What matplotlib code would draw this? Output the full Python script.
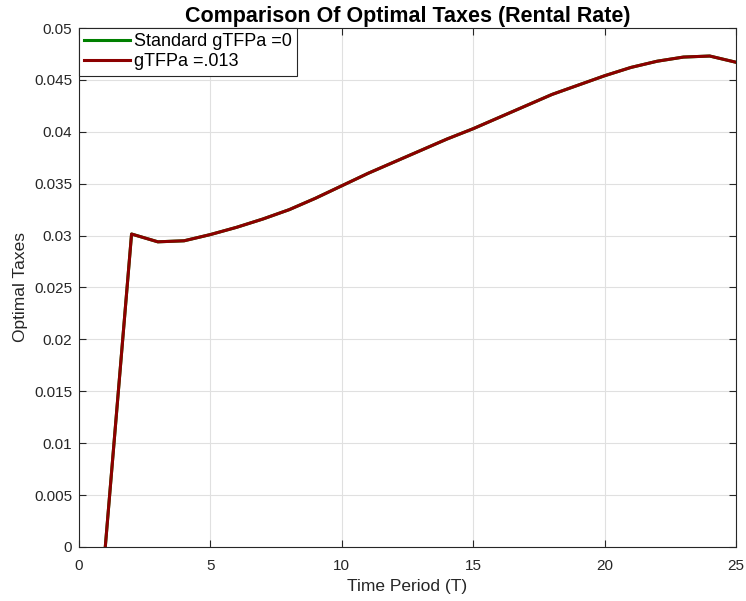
import numpy as np
import matplotlib.pyplot as plt

plt.rcParams['font.family'] = ['Liberation Sans', 'DejaVu Sans']

periods = list(range(1, 26))
tax_standard = [0.0, 0.03015, 0.0294, 0.0295, 0.0301, 0.0308, 0.0316, 0.0325, 0.0336,
                0.0348, 0.0360, 0.0371, 0.0382, 0.0393, 0.0403, 0.0414, 0.0425, 0.0436,
                0.0445, 0.0454, 0.0462, 0.0468, 0.0472, 0.0473, 0.0467]
tax_growth = [0.0, 0.03015, 0.0294, 0.0295, 0.0301, 0.0308, 0.0316, 0.0325, 0.0336,
              0.0348, 0.0360, 0.0371, 0.0382, 0.0393, 0.0403, 0.0414, 0.0425, 0.0436,
              0.0445, 0.0454, 0.0462, 0.0468, 0.0472, 0.0473, 0.0467]

dark = (0.15, 0.15, 0.15)

fig = plt.figure(figsize=(7.46, 6.01), dpi=100)
ax = fig.add_axes([0.1059, 0.0899, 0.8807, 0.8635])

ax.plot(periods, tax_standard, color=(0, 0.5, 0), lw=2.2, label='Standard gTFPa =0')
ax.plot(periods, tax_growth, color=(0.55, 0, 0), lw=2.2, label='gTFPa =.013')

ax.set_xlim(0, 25)
ax.set_ylim(0, 0.05)
ax.set_xticks(np.arange(0, 26, 5))
ax.set_yticks(np.arange(0, 0.0501, 0.005))
ax.set_yticklabels(['0', '0.005', '0.01', '0.015', '0.02', '0.025', '0.03',
                    '0.035', '0.04', '0.045', '0.05'])
ax.grid(True, color=(0.88, 0.88, 0.88), lw=0.8)
ax.set_axisbelow(True)
ax.tick_params(direction='in', top=True, right=True, length=5, width=0.8,
               colors=dark, labelsize=11, labelcolor=dark)
ax.tick_params(axis='x', pad=9)
ax.tick_params(axis='y', pad=5)
for sp in ax.spines.values():
    sp.set_color(dark)
    sp.set_linewidth(0.8)

ax.set_xlabel('Time Period (T)', fontsize=12.5, color=dark, labelpad=4)
ax.set_ylabel('Optimal Taxes', fontsize=12.5, color=dark)
ax.set_title('Comparison Of Optimal Taxes (Rental Rate)', fontsize=15.5, fontweight='bold', pad=4)

leg = ax.legend(loc='upper left', fontsize=13, fancybox=False, framealpha=1,
                edgecolor=dark, borderaxespad=0, borderpad=0.3, handlelength=2.5,
                handletextpad=0.25, labelspacing=0.15)
leg.get_frame().set_linewidth(0.8)

fig.savefig('out.png', dpi=100)
